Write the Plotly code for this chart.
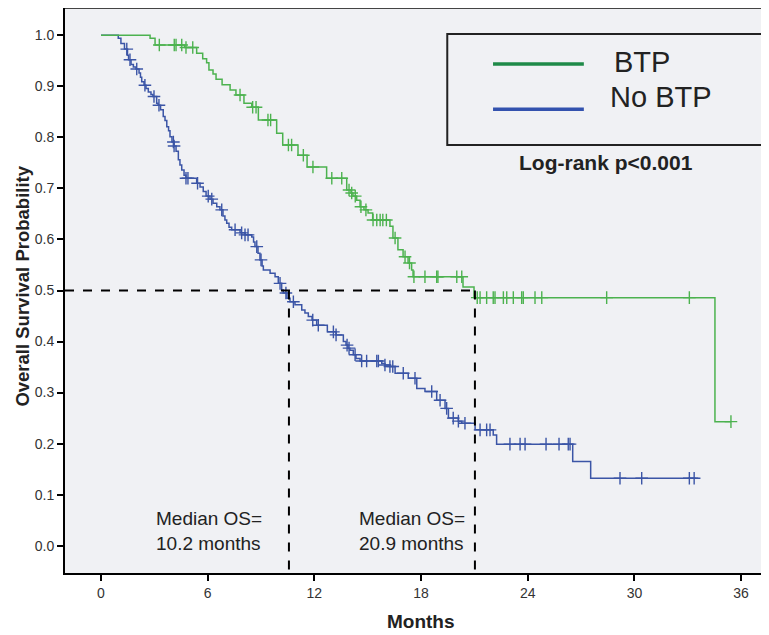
import plotly.graph_objects as go

# ---------------- data ----------------
x_ticks = [0, 6, 12, 18, 24, 30, 36]
y_ticks = [0.0, 0.1, 0.2, 0.3, 0.4, 0.5, 0.6, 0.7, 0.8, 0.9, 1.0]

btp_time = [0, 2.76, 3.04, 4.70, 5.38, 5.72, 5.94, 6.07, 6.30, 6.47, 6.81, 7.26, 7.59,
            8.04, 8.48, 8.85, 9.88, 10.22, 11.08, 11.59, 12.69, 13.82, 14.06, 14.17,
            14.38, 14.57, 14.79, 15.02, 15.28, 16.25, 16.42, 16.70, 16.99, 17.27,
            17.47, 17.55, 20.36, 20.98, 34.53]
btp_surv = [1.0, 0.994, 0.981, 0.976, 0.965, 0.954, 0.946, 0.932, 0.924, 0.914, 0.903,
            0.893, 0.883, 0.867, 0.859, 0.834, 0.808, 0.785, 0.765, 0.742, 0.720, 0.697,
            0.691, 0.685, 0.677, 0.664, 0.658, 0.652, 0.638, 0.626, 0.603, 0.580, 0.566,
            0.554, 0.540, 0.527, 0.507, 0.486, 0.243]
btp_end = 35.43
btp_censor = [3.28, 4.12, 4.22, 4.54, 4.78, 5.16, 7.82, 8.53, 8.72, 9.39, 9.54, 10.54,
              10.72, 11.38, 11.92, 12.98, 13.54, 13.95, 14.10, 14.30, 14.62, 14.90, 15.30,
              15.51, 15.70, 15.85, 16.05, 16.54, 17.10, 17.35, 17.60, 18.22, 18.88, 18.95,
              20.01, 20.29, 21.16, 21.32, 21.69, 22.06, 22.16, 22.63, 22.82, 23.19, 23.66,
              23.75, 24.41, 24.79, 28.44, 33.09, 35.43]

nobtp_time = [0, 0.97, 1.12, 1.32, 1.49, 1.55, 1.69, 1.82, 1.97, 2.14, 2.22, 2.29, 2.42,
              2.53, 2.66, 2.81, 2.92, 3.13, 3.21, 3.35, 3.50, 3.60, 3.70, 3.80, 3.88,
              3.99, 4.11, 4.22, 4.35, 4.44, 4.54, 4.67, 4.78, 5.38, 5.57, 5.75, 5.91,
              6.13, 6.30, 6.51, 6.69, 6.86, 6.97, 7.07, 7.20, 7.35, 7.82, 8.10, 8.48,
              8.58, 8.66, 8.83, 8.94, 9.06, 9.13, 9.51, 9.79, 9.97, 10.16, 10.25, 10.46,
              10.63, 10.91, 11.29, 11.47, 11.66, 11.87, 12.13, 12.73, 13.22, 13.63,
              13.78, 13.89, 14.00, 14.19, 14.34, 14.57, 15.79, 15.97, 16.25, 16.54,
              17.28, 17.76, 18.22, 18.88, 19.35, 19.54, 20.10, 20.29, 21.04, 22.06,
              22.25, 26.53, 27.54]
nobtp_surv = [1.0, 0.994, 0.984, 0.973, 0.961, 0.952, 0.943, 0.938, 0.934, 0.926, 0.918,
              0.909, 0.902, 0.896, 0.889, 0.884, 0.880, 0.867, 0.863, 0.854, 0.841, 0.833,
              0.821, 0.813, 0.801, 0.791, 0.783, 0.773, 0.756, 0.746, 0.736, 0.726, 0.720,
              0.710, 0.703, 0.694, 0.685, 0.679, 0.671, 0.664, 0.658, 0.646, 0.638, 0.632,
              0.624, 0.619, 0.613, 0.609, 0.605, 0.595, 0.586, 0.573, 0.560, 0.548, 0.540,
              0.534, 0.527, 0.514, 0.501, 0.495, 0.485, 0.478, 0.472, 0.462, 0.456, 0.449,
              0.442, 0.432, 0.419, 0.413, 0.400, 0.393, 0.387, 0.383, 0.374, 0.367, 0.362,
              0.357, 0.354, 0.351, 0.338, 0.328, 0.308, 0.302, 0.285, 0.269, 0.250, 0.244,
              0.240, 0.227, 0.217, 0.199, 0.165, 0.132]
nobtp_end = 33.59
nobtp_censor = [1.45, 1.63, 2.01, 2.47, 2.98, 3.26, 4.07, 4.11, 4.78, 4.89, 5.43, 6.03,
                6.23, 6.79, 7.54, 7.91, 8.10, 8.27, 8.76, 9.00, 10.07, 10.40, 10.82, 11.91,
                12.22, 13.07, 13.22, 13.84, 13.95, 14.29, 14.66, 14.94, 15.51, 15.60,
                15.97, 16.25, 16.41, 17.00, 17.66, 18.60, 19.07, 19.44, 19.81, 20.10,
                20.47, 21.32, 21.69, 21.88, 23.00, 23.57, 23.85, 25.03, 25.76, 26.28,
                26.38, 29.19, 30.41, 33.09, 33.36]

median_level = 0.5
median_line_x = [10.57, 21.03]
median_labels = ["Median OS=<br>10.2 months", "Median OS=<br>20.9 months"]
median_label_x = [3.0, 14.42]
group_names = ["BTP", "No BTP"]

# ---------------- helpers ----------------
def surv_at(times, survs, t):
    v = survs[0]
    for ti, si in zip(times, survs):
        if ti <= t:
            v = si
        else:
            break
    return v

GREEN = "#4cb24f"
BLUE = "#3b55a6"
LEG_GREEN = "#1f8a48"
LEG_BLUE = "#3352ae"
FONT = "Liberation Sans, Arial, sans-serif"

fig = go.Figure()

for times, survs, end, cens, col in [
    (nobtp_time, nobtp_surv, nobtp_end, nobtp_censor, BLUE),
    (btp_time, btp_surv, btp_end, btp_censor, GREEN),
]:
    fig.add_trace(go.Scatter(
        x=list(times) + [end], y=list(survs) + [survs[-1]],
        mode="lines", line=dict(color=col, width=1.5, shape="hv"),
        showlegend=False, hoverinfo="skip"))
    fig.add_trace(go.Scatter(
        x=cens, y=[surv_at(times, survs, c) for c in cens],
        mode="markers",
        marker=dict(symbol="cross-thin", size=9, line=dict(color=col, width=1.4)),
        showlegend=False, hoverinfo="skip"))

# axis ranges
X0, X1 = -2.025, 37.57
Y0, Y1 = -0.0535, 1.0535

# median dashed lines
fig.add_shape(type="line", xref="x", yref="y", x0=X0, x1=median_line_x[1],
              y0=median_level, y1=median_level,
              line=dict(color="black", width=2, dash="dash"))
for mx in median_line_x:
    fig.add_shape(type="line", xref="x", yref="y", x0=mx, x1=mx,
                  y0=median_level, y1=Y0,
                  line=dict(color="black", width=2, dash="dash"))

for lx, txt in zip(median_label_x, median_labels):
    fig.add_annotation(x=lx, y=0.029, xref="x", yref="y", text=txt,
                       showarrow=False, xanchor="left", yanchor="middle", align="left",
                       font=dict(family=FONT, size=19, color="#222"))

# top frame line
fig.add_shape(type="line", xref="paper", yref="paper", x0=0, x1=1, y0=1, y1=1,
              line=dict(color="#444", width=2))

# legend box (drawn)
fig.add_shape(type="rect", xref="paper", yref="paper", x0=0.543, x1=0.995,
              y0=0.7575, y1=0.954, line=dict(color="#222", width=2))
fig.add_shape(type="line", xref="paper", yref="paper", x0=0.608, x1=0.737,
              y0=0.901, y1=0.901, line=dict(color=LEG_GREEN, width=3.5))
fig.add_shape(type="line", xref="paper", yref="paper", x0=0.608, x1=0.737,
              y0=0.8207, y1=0.8207, line=dict(color=LEG_BLUE, width=3.5))
fig.add_annotation(x=0.7766, y=0.905, xref="paper", yref="paper", text=group_names[0],
                   showarrow=False, xanchor="left", yanchor="middle",
                   font=dict(family=FONT, size=29, color="#222"))
fig.add_annotation(x=0.7717, y=0.843, xref="paper", yref="paper", text=group_names[1],
                   showarrow=False, xanchor="left", yanchor="middle",
                   font=dict(family=FONT, size=29, color="#222"))
fig.add_annotation(x=0.768, y=0.726, xref="paper", yref="paper",
                   text="<b>Log-rank p<0.001</b>",
                   showarrow=False, xanchor="center", yanchor="middle",
                   font=dict(family=FONT, size=21, color="#222"))

# axis titles
fig.add_annotation(x=-0.061, y=0.507, xref="paper", yref="paper",
                   text="<b>Overall Survival Probability</b>", textangle=-90,
                   showarrow=False, xanchor="center", yanchor="middle",
                   font=dict(family=FONT, size=18.5, color="#222"))
fig.add_annotation(x=0.5057, y=-0.0867, xref="paper", yref="paper",
                   text="<b>Months</b>",
                   showarrow=False, xanchor="center", yanchor="middle",
                   font=dict(family=FONT, size=19, color="#222"))

fig.update_layout(
    width=761, height=627,
    margin=dict(l=57, r=0, t=0, b=62),
    paper_bgcolor="white", plot_bgcolor="#f0f1f4",
    showlegend=False,
    font=dict(family=FONT, color="#333"),
)
fig.update_xaxes(range=[X0, X1], tickvals=x_ticks, ticktext=[str(v) for v in x_ticks],
                 showgrid=False, zeroline=False, showline=True, linecolor="black",
                 linewidth=2, ticks="outside", ticklen=6, tickwidth=1.5, tickcolor="black",
                 tickfont=dict(family=FONT, size=14, color="#333"))
fig.update_yaxes(range=[Y0, Y1], tickvals=y_ticks, ticktext=[f"{v:.1f}" for v in y_ticks],
                 showgrid=False, zeroline=False, showline=True, linecolor="black",
                 linewidth=2, ticks="outside", ticklen=6, tickwidth=1.5, tickcolor="black",
                 tickfont=dict(family=FONT, size=14, color="#333"))

fig.write_html("out.html")
